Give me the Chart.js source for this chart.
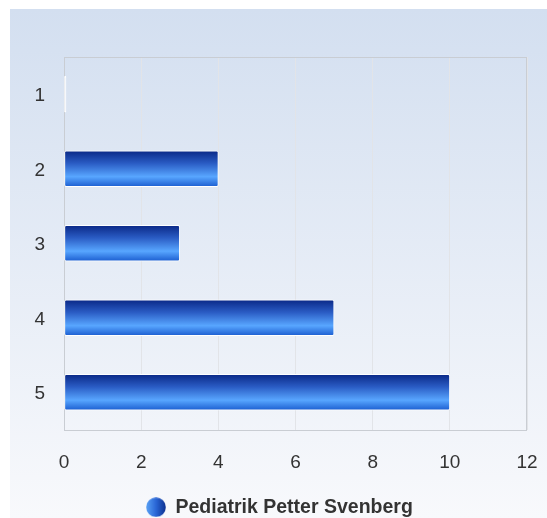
<!DOCTYPE html>
<html><head><meta charset="utf-8">
<script src="https://cdn.jsdelivr.net/npm/chart.js@4.4.1/dist/chart.umd.min.js"></script>
<style>html,body{margin:0;padding:0;background:#fff;}</style>
</head><body>
<canvas id="c" width="547" height="518" style="display:block;width:547px;height:518px"></canvas>
<script>
const categories = ['1', '2', '3', '4', '5'];
const seriesName = 'Pediatrik Petter Svenberg';
const values = [0, 4, 3, 7, 10];
const xMin = 0, xMax = 12, xStep = 2;

const FONT = '"Liberation Sans", Arial, Helvetica, sans-serif';
const BAR_THICK = 36;

// legend marker: circle with horizontal gradient
const marker = document.createElement('canvas');
marker.width = 20; marker.height = 20;
(function(){
  const m = marker.getContext('2d');
  const g = m.createLinearGradient(0, 0, 20, 0);
  g.addColorStop(0, '#5aa2f5');
  g.addColorStop(0.5, '#2a66d6');
  g.addColorStop(1, '#0c2f8e');
  m.fillStyle = g;
  m.beginPath(); m.arc(10, 10, 9.8, 0, Math.PI * 2); m.fill();
})();

const bgPlugin = {
  id: 'bg',
  beforeDraw(chart) {
    const ctx = chart.ctx;
    ctx.save();
    ctx.fillStyle = '#ffffff';
    ctx.fillRect(0, 0, chart.width, chart.height);
    const g = ctx.createLinearGradient(0, 9, 0, chart.height);
    g.addColorStop(0, '#d3dff0');
    g.addColorStop(1, '#f8f9fc');
    ctx.fillStyle = g;
    ctx.fillRect(10, 9, chart.width - 10, chart.height - 9);
    ctx.restore();
  },
  afterLayout(chart) {
    const l = chart.legend;
    if (l) { l.top += 9; l.bottom += 9; l.left += 16; l.right += 16; }
  }
};

const framePlugin = {
  id: 'frame',
  beforeDatasetsDraw(chart) {
    const {ctx, chartArea: a} = chart;
    ctx.save();
    ctx.strokeStyle = '#c9cdd3';
    ctx.lineWidth = 1;
    ctx.strokeRect(Math.round(a.left) + 0.5, Math.round(a.top) + 0.5, Math.round(a.right - a.left) - 1, Math.round(a.bottom - a.top));
    ctx.restore();
  }
};

function barGradient(c) {
  const chart = c.chart;
  const ys = chart.scales && chart.scales.y;
  if (c.raw === 0) return '#ffffff';
  if (!ys || c.dataIndex === undefined || !chart.chartArea) return '#2a66d6';
  const cy = ys.getPixelForValue(c.dataIndex);
  const top = cy - BAR_THICK / 2, bot = cy + BAR_THICK / 2;
  const g = chart.ctx.createLinearGradient(0, top, 0, bot);
  g.addColorStop(0, '#0a2886');
  g.addColorStop(0.35, '#2a5cc4');
  g.addColorStop(0.72, '#58a6ff');
  g.addColorStop(1, '#1b5dd0');
  return g;
}

new Chart(document.getElementById('c'), {
  type: 'bar',
  data: {
    labels: categories,
    datasets: [{
      label: seriesName,
      data: values,
      backgroundColor: barGradient,
      borderColor: '#ffffff',
      borderWidth: 1,
      borderRadius: 2,
      borderSkipped: false,
      barThickness: BAR_THICK,
      minBarLength: 2
    }]
  },
  plugins: [bgPlugin, framePlugin],
  options: {
    indexAxis: 'y',
    responsive: false,
    animation: false,
    devicePixelRatio: 1,
    layout: { padding: { top: 57, right: 20, left: 0, bottom: 0 } },
    scales: {
      x: {
        min: xMin, max: xMax,
        grid: { color: '#e2e4e8', drawTicks: false },
        border: { display: false },
        ticks: { stepSize: xStep, padding: 22, color: '#333333', font: { family: FONT, size: 19 } },
        afterFit(s) { s.height = 55; s.paddingRight = 0; s.paddingLeft = 0; }
      },
      y: {
        grid: { display: false, drawTicks: false },
        border: { display: false },
        ticks: { padding: 19, labelOffset: 2, color: '#333333', font: { family: FONT, size: 19 } },
        afterFit(s) { s.width = 64; }
      }
    },
    plugins: {
      tooltip: { enabled: false },
      legend: {
        position: 'bottom',
        labels: {
          usePointStyle: true,
          pointStyle: marker,
          padding: 4,
          color: '#333333',
          font: { family: FONT, size: 19.5, weight: 'bold' },
          generateLabels(chart) {
            return [{ text: seriesName, pointStyle: marker, fillStyle: '#2a66d6', strokeStyle: 'transparent', lineWidth: 0, datasetIndex: 0, fontColor: '#333333' }];
          }
        }
      }
    }
  }
});
</script>
</body></html>
